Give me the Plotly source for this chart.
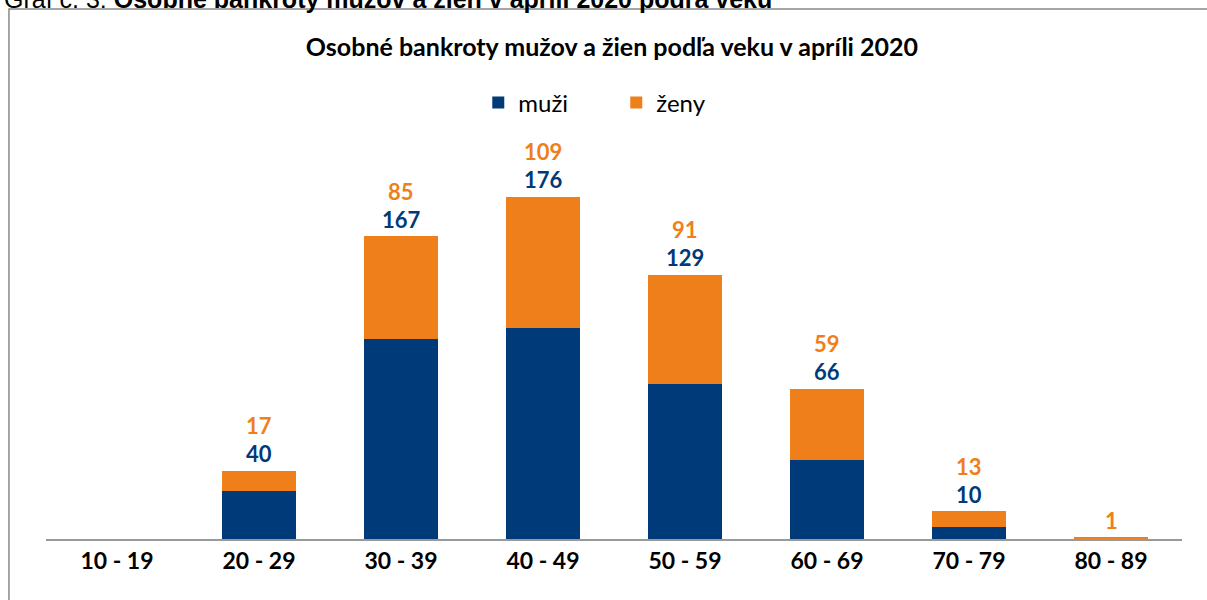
import plotly.graph_objects as go

categories = ["10 - 19", "20 - 29", "30 - 39", "40 - 49", "50 - 59", "60 - 69", "70 - 79", "80 - 89"]
muzi = [0, 40, 167, 176, 129, 66, 10, 0]
zeny = [0, 17, 85, 109, 91, 59, 13, 1]

BLUE = "#003A78"
ORANGE = "#EE7F1A"
FONT = "Lato, sans-serif"

fig = go.Figure()
fig.add_trace(go.Bar(x=categories, y=muzi, name="muži", marker=dict(color=BLUE, line=dict(width=0))))
fig.add_trace(go.Bar(x=categories, y=zeny, name="ženy", marker=dict(color=ORANGE, line=dict(width=0))))

annotations = []
for c, m, z in zip(categories, muzi, zeny):
    total = m + z
    if m > 0:
        annotations.append(dict(x=c, y=total, xref="x", yref="y", text=f"<b>{m}</b>", showarrow=False,
                                yanchor="middle", yshift=17, font=dict(size=22, color=BLUE, family=FONT)))
    if z > 0:
        annotations.append(dict(x=c, y=total, xref="x", yref="y", text=f"<b>{z}</b>",
                                showarrow=False, yanchor="middle", yshift=45 if m > 0 else 17,
                                font=dict(size=22, color=ORANGE, family=FONT)))

# caption cut at top edge
annotations.append(dict(x=-0.0387, y=540 / 389, xref="paper", yref="paper", xanchor="left", yanchor="middle",
                        text="Graf č. 3: <b>Osobné bankroty mužov a žien v apríli 2020 podľa veku</b>",
                        showarrow=False, font=dict(size=25, color="#000000", family="Liberation Sans, Arial")))

fig.update_layout(
    width=1207, height=600,
    barmode="stack", bargap=0.48,
    paper_bgcolor="white", plot_bgcolor="white",
    margin=dict(l=46, r=25, t=150, b=61),
    title=dict(text="<b>Osobné bankroty mužov a žien podľa veku v apríli 2020</b>", x=0.507, xanchor="center",
               y=1 - 47 / 600, yanchor="middle", font=dict(size=25, color="#000000", family=FONT)),
    legend=dict(orientation="h", x=0.502, xanchor="center", y=1 - 103 / 600, yref="container", yanchor="middle",
                font=dict(size=24, color="#000000", family=FONT), entrywidth=93, itemwidth=30,
                traceorder="normal"),
    xaxis=dict(showline=True, linecolor="#999999", linewidth=2, ticks="", showgrid=False,
               tickfont=dict(size=23, color="#000000", family=FONT), tickprefix="<b>", ticksuffix="</b>"),
    yaxis=dict(range=[0, 324], visible=False, showgrid=False, zeroline=False),
    annotations=annotations,
    shapes=[dict(type="rect", xref="paper", yref="paper", x0=-0.0326, x1=1.05, y0=-0.2, y1=(539 - 9) / 389,
                 line=dict(color="#888888", width=1.5), fillcolor="rgba(0,0,0,0)", layer="below")],
)

fig.write_html("out.html", config={"displayModeBar": False},
               post_script="document.body.style.margin='0';document.body.style.overflow='hidden';")
